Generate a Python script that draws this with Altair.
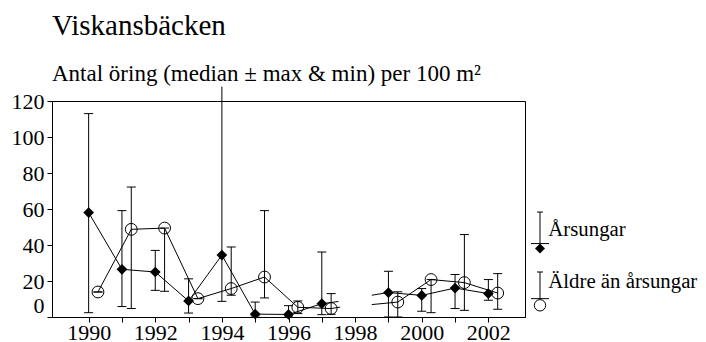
import altair as alt
import pandas as pd

# --- data ---
years = [1990, 1991, 1992, 1993, 1994, 1995, 1996, 1997, 1999, 2000, 2001, 2002]
segment = [1, 1, 1, 1, 1, 1, 1, 1, 2, 2, 2, 2]

# Årsungar (filled diamonds)
yoy_median = [58.0, 26.5, 25.0, 8.9, 34.4, 1.6, 1.4, 7.4, 13.6, 12.0, 16.1, 13.0]
yoy_max = [113.0, 59.1, 37.0, 21.2, 128.0, 8.3, 6.3, 36.1, 25.4, 15.8, 23.6, 20.8]
yoy_min = [2.4, 5.8, 14.8, 2.2, 8.7, 0.6, 0.6, 1.3, 0.0, 3.2, 4.7, 9.3]

# Äldre än årsungar (open circles)
old_median = [13.9, 48.7, 49.4, 10.2, 15.8, 22.2, 5.4, 4.7, 8.3, 20.8, 19.1, 13.3]
old_max = [13.9, 72.2, 49.4, 10.2, 38.9, 59.1, 8.9, 13.0, 14.0, 20.8, 45.8, 24.1]
old_min = [13.9, 4.7, 14.3, 10.2, 12.1, 10.6, 1.9, 1.5, 0.0, 2.4, 3.7, 4.3]

# short line stubs around the missing year 1998
stub_series = ["yoy", "yoy", "old", "old"]
stub_x0 = [1997.0, 1998.5, 1997.28, 1998.5]
stub_x1 = [1997.5, 1999.0, 1997.55, 1999.28]
stub_y0 = [7.4, 12.1, 4.7, 6.9]
stub_y1 = [8.6, 13.6, 5.5, 8.3]

# custom legend
legend_labels = ["Årsungar", "Äldre än årsungar"]
legend_series = ["yoy", "old"]
legend_top = [58.3, 25.0]
legend_bottom = [40.8, 10.2]
legend_symbol = [38.0, 6.5]
legend_text = [48.2, 19.4]
legend_x = [2003.55, 2003.55]
legend_text_x = [2003.80, 2003.80]

y_ticks = [0, 20, 40, 60, 80, 100, 120]
x_ticks = list(range(1990, 2003))

CIRCLE_SHIFT = 0.28
FONT = "Liberation Serif"

rows = []
for i, yr in enumerate(years):
    rows.append(dict(year=yr, series="yoy", seg=segment[i], med=yoy_median[i],
                     mx=yoy_max[i], mn=yoy_min[i]))
    rows.append(dict(year=yr, series="old", seg=segment[i], med=old_median[i],
                     mx=old_max[i], mn=old_min[i]))
df = pd.DataFrame(rows)
stubs = pd.DataFrame(dict(series=stub_series, x0=stub_x0, x1=stub_x1, y0=stub_y0, y1=stub_y1))
leg = pd.DataFrame(dict(label=legend_labels, series=legend_series, top=legend_top,
                        bottom=legend_bottom, sym=legend_symbol, ty=legend_text,
                        lx=legend_x, tx=legend_text_x))

xscale = alt.Scale(domain=[1988.9, 2003.1], nice=False, zero=False)
yscale = alt.Scale(domain=[0, 120], nice=False, zero=False)

xaxis = alt.Axis(values=x_ticks, format="d",
                 labelExpr="datum.value % 2 == 0 ? datum.label : ''",
                 tickSize=5, labelPadding=0, title=None, grid=False,
                 labelFont=FONT, labelFontSize=22, labelColor="black",
                 labelOverlap=False, labelFlush=False)
yaxis = alt.Axis(values=y_ticks, tickSize=5, labelPadding=3,
                 title=None, grid=False, labelFont=FONT, labelFontSize=22,
                 labelColor="black", labelOverlap=False, labelFlush=False,
                 labelOffset=alt.condition("datum.value == 0", alt.value(-12), alt.value(0)))


def X(field):
    return alt.X(field, type="quantitative", scale=xscale, axis=xaxis)


def Y(field):
    return alt.Y(field, type="quantitative", scale=yscale, axis=yaxis)


base = alt.Chart(df).transform_calculate(
    xp=f"datum.year + (datum.series == 'old' ? {CIRCLE_SHIFT} : 0)"
)

bars = base.mark_rule(color="black", strokeWidth=1).encode(
    x=X("xp"), y=Y("mn"), y2="mx:Q")
cap_hi = base.transform_filter("datum.mx <= 120").mark_tick(
    orient="horizontal", color="black", size=9, thickness=1, opacity=1).encode(
    x=X("xp"), y=Y("mx"))
cap_lo = base.mark_tick(
    orient="horizontal", color="black", size=9, thickness=1, opacity=1).encode(
    x=X("xp"), y=Y("mn"))
lines = base.mark_line(color="black", strokeWidth=1).encode(
    x=X("xp"), y=Y("med"), detail=["series:N", "seg:O"], order="year:Q")
stub_layer = alt.Chart(stubs).mark_rule(color="black", strokeWidth=1).encode(
    x=X("x0"), x2="x1:Q", y=Y("y0"), y2="y1:Q")
diamonds = base.transform_filter("datum.series == 'yoy'").mark_point(
    shape="diamond", filled=True, size=115, color="black", opacity=1).encode(
    x=X("xp"), y=Y("med"))
circles = base.transform_filter("datum.series == 'old'").mark_point(
    shape="circle", filled=False, size=140, color="black", opacity=1, strokeWidth=1).encode(
    x=X("xp"), y=Y("med"))

lbase = alt.Chart(leg)
leg_bar = lbase.mark_rule(color="black").encode(x=X("lx"), y=Y("top"), y2="bottom:Q")
leg_cap_top = lbase.mark_tick(orient="horizontal", color="black", size=6,
                              thickness=1, opacity=1).encode(x=X("lx"), y=Y("top"))
leg_cap_bot = lbase.mark_tick(orient="horizontal", color="black", size=18,
                              thickness=1, opacity=1).encode(x=X("lx"), y=Y("bottom"))
leg_dia = lbase.transform_filter("datum.series == 'yoy'").mark_point(
    shape="diamond", filled=True, size=100, color="black", opacity=1).encode(
    x=X("lx"), y=Y("sym"))
leg_circ = lbase.transform_filter("datum.series == 'old'").mark_point(
    shape="circle", filled=False, size=130, color="black", opacity=1, strokeWidth=1).encode(
    x=X("lx"), y=Y("sym"))
leg_text = lbase.mark_text(align="left", baseline="middle", font=FONT, fontSize=20.8,
                           color="black").encode(
    x=X("tx"), y=Y("ty"), text="label:N")

chart = alt.layer(
    bars, cap_hi, cap_lo, lines, stub_layer, circles, diamonds,
    leg_bar, leg_cap_top, leg_cap_bot, leg_dia, leg_circ, leg_text
).properties(
    width=473, height=216,
    background="white",
    title=alt.TitleParams(
        text="Viskansbäcken",
        subtitle="Antal öring (median ± max & min) per 100 m²",
        anchor="start", frame="group", font=FONT, fontSize=29, fontWeight="normal",
        color="black", subtitleFont=FONT, subtitleFontSize=23, subtitleColor="black",
        subtitlePadding=22, offset=0),
    autosize=alt.AutoSizeParams(type="none"),
    padding={"left": 44, "top": 93, "right": 173, "bottom": 36},
).configure_view(
    stroke="black", strokeWidth=1
).configure_axis(
    labelFont=FONT, labelFontSize=22, labelColor="black", labelOverlap=False,
    domainColor="black", tickColor="black", domainWidth=1, tickWidth=1
)

chart.save("out.html", embed_options={"renderer": "svg", "actions": False})
